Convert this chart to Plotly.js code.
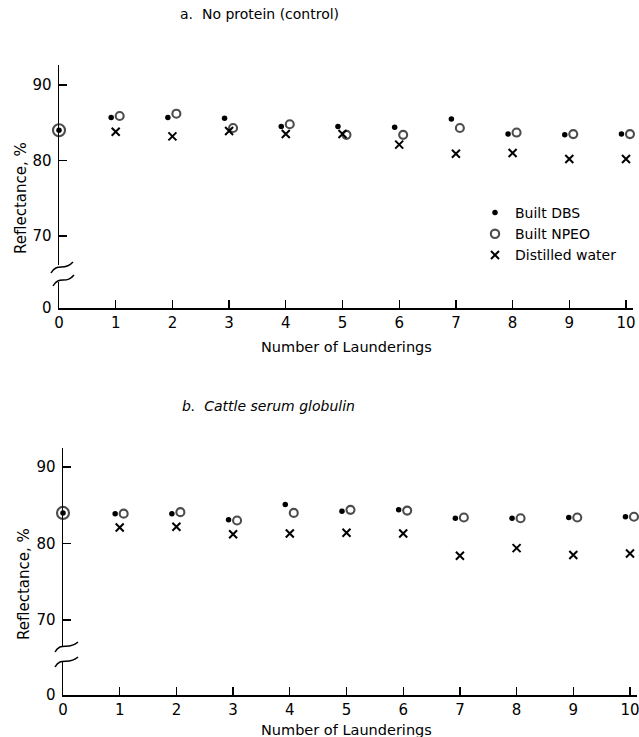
<!DOCTYPE html>
<html>
<head>
<meta charset="utf-8">
<script src="https://cdn.plot.ly/plotly-3.0.1.min.js"></script>
<style>html,body{margin:0;padding:0;background:#fff;}#chart{width:639px;height:737px;}</style>
</head>
<body>
<div id="chart"></div>
<script>
// ---- data ----
const launderings = [0, 1, 2, 3, 4, 5, 6, 7, 8, 9, 10];
const xTickLabels = ['0','1','2','3','4','5','6','7','8','9','10'];
const yTickUpper = [70, 80, 90];
const yTickLower = [0];

// Panel a: No protein (control)
const aBuiltDBS   = [84.0, 85.7, 85.7, 85.6, 84.5, 84.5, 84.4, 85.5, 83.5, 83.4, 83.5];
const aBuiltNPEO  = [84.0, 85.9, 86.2, 84.3, 84.8, 83.4, 83.4, 84.3, 83.7, 83.5, 83.5];
const aDistWater  = [null, 83.8, 83.2, 83.9, 83.5, 83.5, 82.1, 80.9, 81.0, 80.2, 80.2];

// Panel b: Cattle serum globulin
const bBuiltDBS   = [84.0, 83.9, 83.9, 83.1, 85.1, 84.2, 84.4, 83.3, 83.3, 83.4, 83.5];
const bBuiltNPEO  = [84.0, 83.9, 84.1, 83.0, 84.0, 84.4, 84.3, 83.4, 83.3, 83.4, 83.5];
const bDistWater  = [null, 82.1, 82.2, 81.2, 81.3, 81.4, 81.3, 78.4, 79.4, 78.5, 78.7];

const seriesNames = ['Built DBS', 'Built NPEO', 'Distilled water'];
const titleA = 'a.  No protein (control)';
const titleB = 'b.  Cattle serum globulin';
const xTitle = 'Number of Launderings';
const yTitle = 'Reflectance, %';

// ---- layout helpers (pixel -> paper) ----
const W = 639, H = 737;
const X = px => px / W;
const Y = py => 1 - py / H;
const FONT = 'DejaVu Sans, Verdana, sans-serif';
const XMAX = 10.12;

const shiftL = launderings.map(v => v === 0 ? v : v - 0.08);
const shiftR = launderings.map(v => v === 0 ? v : v + 0.07);
const npeoSize = launderings.map(v => v === 0 ? 12 : 8);

function traces(dbs, npeo, water, xa, ya, yaLow, legend) {
  return [
    {x: shiftL, y: dbs, xaxis: xa, yaxis: ya, name: seriesNames[0], type: 'scatter', mode: 'markers',
     showlegend: legend, cliponaxis: false, hoverinfo: 'skip',
     marker: {symbol: 'circle', size: 5.5, color: '#000'}},
    {x: shiftR, y: npeo, xaxis: xa, yaxis: ya, name: seriesNames[1], type: 'scatter', mode: 'markers',
     showlegend: legend, cliponaxis: false, hoverinfo: 'skip',
     marker: {symbol: 'circle-open', size: npeoSize, color: '#000', line: {width: 2.1, color: '#000'}}},
    {x: launderings, y: water, xaxis: xa, yaxis: ya, name: seriesNames[2], type: 'scatter', mode: 'markers',
     showlegend: legend, cliponaxis: false, hoverinfo: 'skip',
     marker: {symbol: 'x-thin-open', size: 8, color: '#000', line: {width: 2, color: '#000'}}},
    // empty trace so the lower (broken) axis segment is created
    {x: [null], y: [null], xaxis: xa, yaxis: yaLow, type: 'scatter', mode: 'markers',
     showlegend: false, hoverinfo: 'skip'}
  ];
}

const data = [
  ...traces(aBuiltDBS, aBuiltNPEO, aDistWater, 'x', 'y', 'y2', true),
  ...traces(bBuiltDBS, bBuiltNPEO, bDistWater, 'x2', 'y3', 'y4', false)
];

const axCommon = {
  showline: true, linecolor: '#000', linewidth: 1.5, showgrid: false, zeroline: false,
  ticks: 'inside', ticklen: 8, tickwidth: 1.3, tickcolor: '#000', ticklabeloverflow: 'allow',
  tickfont: {family: FONT, size: 15, color: '#000'}, fixedrange: true
};

function tilde(p) {
  return `M ${X(p[0])},${Y(p[1])} C ${X(p[2])},${Y(p[3])} ${X(p[4])},${Y(p[5])} ${X(p[6])},${Y(p[7])}`;
}
const breakLine = {color: '#000', width: 1.5};
const pxPerUnit = 56.7;

function note(text, px, py, size, angle) {
  return {text: text, x: X(px), y: Y(py), xref: 'paper', yref: 'paper', showarrow: false,
    xanchor: 'center', yanchor: 'middle', textangle: angle || 0, font: {size: size}};
}

const layout = {
  width: W, height: H,
  margin: {l: 0, r: 0, t: 0, b: 0},
  paper_bgcolor: '#fff', plot_bgcolor: 'rgba(0,0,0,0)',
  font: {family: FONT, color: '#000'},
  xaxis: Object.assign({}, axCommon, {domain: [X(59), X(59 + pxPerUnit * XMAX)], range: [0, XMAX], anchor: 'y2',
    tickvals: launderings, ticktext: xTickLabels}),
  yaxis: Object.assign({}, axCommon, {domain: [Y(265), Y(65)], range: [70 - 29/7.55, 90 + 20/7.55], anchor: 'x',
    tickvals: yTickUpper, ticklabelstandoff: 3}),
  yaxis2: Object.assign({}, axCommon, {domain: [Y(308), Y(282)], range: [0, 26/7.55], anchor: 'x',
    tickvals: yTickLower, ticks: '', ticklabelstandoff: 3}),
  xaxis2: Object.assign({}, axCommon, {domain: [X(63), X(63 + pxPerUnit * XMAX)], range: [0, XMAX], anchor: 'y4',
    tickvals: launderings, ticktext: xTickLabels}),
  yaxis3: Object.assign({}, axCommon, {domain: [Y(647), Y(448)], range: [70 - 27/7.65, 90 + 19/7.65], anchor: 'x2',
    tickvals: yTickUpper, ticklabelstandoff: 3}),
  yaxis4: Object.assign({}, axCommon, {domain: [Y(695), Y(662)], range: [0, 33/7.65], anchor: 'x2',
    tickvals: yTickLower, ticks: '', ticklabelstandoff: 3}),
  showlegend: true,
  legend: {x: X(475), y: Y(197), xanchor: 'left', yanchor: 'top', bgcolor: 'rgba(0,0,0,0)',
    font: {family: FONT, size: 14, color: '#000'}, tracegroupgap: 0, itemclick: false},
  annotations: [
    note(titleA, 259, 14, 14),
    note('<i>' + titleB + '</i>', 268, 406, 14),
    note(xTitle, 346, 347, 14.5),
    note(xTitle, 346, 730, 14.5),
    note(yTitle, 21, 198, 15, -90),
    note(yTitle, 24, 584, 15, -90)
  ],
  shapes: [
    {type: 'path', xref: 'paper', yref: 'paper', line: breakLine, path: tilde([51,273, 57,262, 64,272, 73,262])},
    {type: 'path', xref: 'paper', yref: 'paper', line: breakLine, path: tilde([53,286, 59,275, 66,285, 74,275])},
    {type: 'path', xref: 'paper', yref: 'paper', line: breakLine, path: tilde([55,652, 61,641, 68,651, 78,642])},
    {type: 'path', xref: 'paper', yref: 'paper', line: breakLine, path: tilde([55,667, 61,656, 68,666, 78,657])}
  ]
};

Plotly.newPlot('chart', data, layout, {displayModeBar: false, staticPlot: true});
</script>
</body>
</html>
